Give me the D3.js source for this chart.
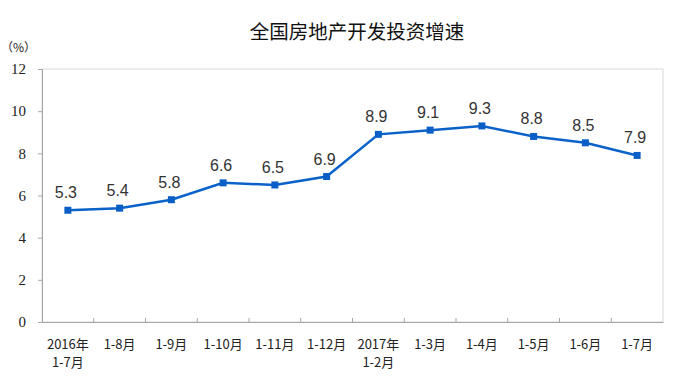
<!DOCTYPE html>
<html><head><meta charset="utf-8">
<script src="https://cdn.jsdelivr.net/npm/d3@7"></script>
<style>body{margin:0;background:#fff}svg{display:block}</style>
</head><body>
<svg id="c" width="673" height="381"></svg>
<script>
const title = "全国房地产开发投资增速";
const unitLabel = "（%）";
const categories = ["2016年\n1-7月","1-8月","1-9月","1-10月","1-11月","1-12月","2017年\n1-2月","1-3月","1-4月","1-5月","1-6月","1-7月"];
const values = [5.3,5.4,5.8,6.6,6.5,6.9,8.9,9.1,9.3,8.8,8.5,7.9];
const yTicks = [0,2,4,6,8,10,12];

const svg = d3.select("#c");
const m = {l:42, r:10, t:69, b:59};
const W = 673, H = 381;
const x = d3.scaleBand().domain(d3.range(categories.length)).range([m.l, W - m.r]);
const y = d3.scaleLinear().domain([0,12]).range([H - m.b, m.t]);

// plot border
svg.append("rect").attr("x", m.l).attr("y", m.t).attr("width", W-m.r-m.l).attr("height", H-m.b-m.t)
  .attr("fill","none").attr("stroke","#d9d9d9").attr("stroke-width",1);

// y axis
const ya = svg.append("g").attr("transform",`translate(${m.l},0)`)
  .call(d3.axisLeft(y).tickValues(yTicks).tickSize(4).tickPadding(12).tickFormat(d3.format("d")));
ya.select(".domain").attr("stroke","#a6a6a6");
ya.selectAll(".tick line").attr("stroke","#a6a6a6");
ya.selectAll("text").attr("font-family","'Liberation Serif','Times New Roman',serif").attr("font-size",15).attr("fill","#222");

// x axis
const xa = svg.append("g").attr("transform",`translate(0,${H-m.b})`)
  .call(d3.axisBottom(x).tickSize(0).tickFormat(""));
xa.select(".domain").attr("stroke","#a6a6a6");
// inward boundary ticks
svg.append("g").selectAll("line").data(d3.range(1,categories.length)).join("line")
  .attr("x1", i => x(i)).attr("x2", i => x(i))
  .attr("y1", H-m.b).attr("y2", H-m.b-4).attr("stroke","#a6a6a6");

// x labels
const xl = svg.append("g").selectAll("text").data(categories).join("text")
  .attr("x",(d,i)=>x(i)+x.bandwidth()/2).attr("y",H-m.b+27)
  .attr("text-anchor","middle").attr("font-family","'Noto Sans CJK SC',sans-serif").attr("font-size",13).attr("fill","#222");
xl.each(function(d){
  const parts = d.split("\n");
  const t = d3.select(this);
  parts.forEach((p,k)=>t.append("tspan").attr("x",t.attr("x")).attr("dy",k===0?0:18).text(p));
});

// line
const px = i => x(i) + x.bandwidth()/2;
const line = d3.line().x((d,i)=>px(i)).y(d=>y(d));
svg.append("path").datum(values).attr("d",line).attr("fill","none").attr("stroke","#0a62c9").attr("stroke-width",2.5);
svg.append("g").selectAll("rect").data(values).join("rect")
  .attr("x",(d,i)=>px(i)-3.5).attr("y",d=>y(d)-3.5).attr("width",7).attr("height",7).attr("fill","#0a5fc6");

// data labels
svg.append("g").selectAll("text").data(values).join("text")
  .attr("x",(d,i)=>px(i)-2).attr("y",d=>y(d)-12)
  .attr("text-anchor","middle").attr("font-family","'Liberation Sans',Arial,sans-serif").attr("font-size",16).attr("fill","#333")
  .text(d=>d3.format(".1f")(d));

// title
svg.append("text").attr("x",357).attr("y",39).attr("text-anchor","middle")
  .attr("font-family","'Noto Sans CJK SC',sans-serif").attr("font-size",19.5).attr("fill","#111").text(title);
svg.append("text").attr("x",1).attr("y",52).attr("font-family","'Noto Sans CJK SC',sans-serif").attr("font-size",12).attr("fill","#222").text(unitLabel);
</script>
</body></html>
